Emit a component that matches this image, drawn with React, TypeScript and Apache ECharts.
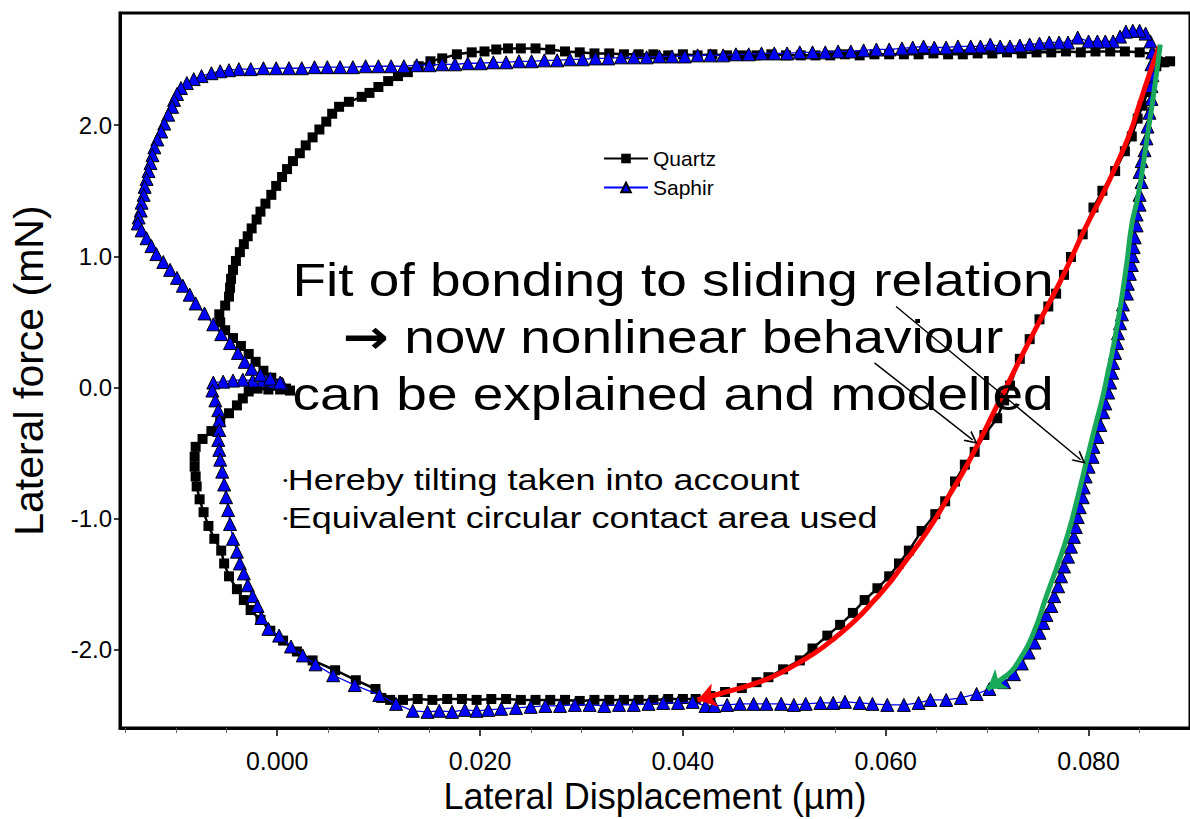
import React, { useEffect, useRef } from "react";
import * as echarts from "echarts";

// ---------- axes ----------
const xMin = -0.0155;
const xMax = 0.09;
const yMin = -2.596;
const yMax = 2.855;
const xTicks = [0, 0.02, 0.04, 0.06, 0.08];
const xMinorTicks = [-0.015, -0.01, -0.005, 0.005, 0.01, 0.015, 0.025, 0.03, 0.035, 0.045, 0.05, 0.055, 0.065, 0.07, 0.075, 0.085];
const yTicks = [-2, -1, 0, 1, 2];

// ---------- Quartz (black squares) ----------
const quartzDisp = [
  0.00126, 0.00029, -0.00087, -0.00194, -0.00281, -0.00339, -0.00397, -0.00475, -0.00562, -0.00649,
  -0.00736, -0.00804, -0.00814, -0.00814, -0.00804, -0.00794, -0.00765, -0.00726, -0.00678, -0.0062,
  -0.00552, -0.00523, -0.00475, -0.00397, -0.00329, -0.00262, -0.00165, -0.00068, 0.00058, 0.00194,
  0.00349, 0.00571, 0.00775, 0.00969, 0.01027, 0.01114, 0.0124, 0.01385, 0.0153, 0.01676,
  0.01821, 0.01966, 0.02111, 0.02257, 0.02402, 0.02547, 0.02692, 0.02838, 0.02983, 0.03128,
  0.03274, 0.03419, 0.03564, 0.03709, 0.03855, 0.04, 0.04126, 0.04271, 0.04416, 0.04581,
  0.04726, 0.04843, 0.04988, 0.05153, 0.05278, 0.05424, 0.0555, 0.05676, 0.05792, 0.05918,
  0.06034, 0.06131, 0.06228, 0.06354, 0.06489, 0.06586, 0.06683, 0.0678, 0.06877, 0.06973,
  0.07099, 0.07167, 0.07225, 0.07322, 0.07419, 0.07516, 0.07603, 0.0768, 0.07758, 0.07826,
  0.07942, 0.08048, 0.08136, 0.08262, 0.08358, 0.08426, 0.08484, 0.08533, 0.08581, 0.0863,
  0.08668, 0.08746, 0.08804, 0.08649, 0.08504, 0.08358, 0.08213, 0.08068, 0.07923, 0.07777,
  0.07632, 0.07487, 0.07341, 0.07196, 0.07051, 0.06906, 0.0676, 0.06615, 0.0647, 0.06324,
  0.06179, 0.06034, 0.05889, 0.05743, 0.05598, 0.05453, 0.05307, 0.05162, 0.05017, 0.04872,
  0.04726, 0.04581, 0.04436, 0.04291, 0.04145, 0.04, 0.03855, 0.03709, 0.03564, 0.03419,
  0.03274, 0.03128, 0.02983, 0.02838, 0.02692, 0.02547, 0.02402, 0.02276, 0.0216, 0.02044,
  0.01918, 0.01772, 0.01627, 0.01511, 0.01395, 0.01288, 0.01191, 0.01094, 0.00998, 0.0091,
  0.00833, 0.00707, 0.0061, 0.00542, 0.00484, 0.00416, 0.00349, 0.00281, 0.00223, 0.00155,
  0.00097, 0.00048, -0.0001, -0.00058, -0.00116, -0.00165, -0.00203, -0.00252, -0.00291, -0.00329,
  -0.00368, -0.00407, -0.00436, -0.00455, -0.00465, -0.00475, -0.00513, -0.00571, -0.00562, -0.00513,
  -0.00436, -0.00358, -0.00281, -0.00213, -0.00136, -0.00058, 0.00019, 0.00087,
];
const quartzForce = [
  -0.023, -0.015, -0.015, -0.008, -0.03, -0.083, -0.136, -0.196, -0.264, -0.332,
  -0.392, -0.452, -0.528, -0.603, -0.678, -0.754, -0.852, -0.95, -1.055, -1.153,
  -1.243, -1.341, -1.439, -1.537, -1.62, -1.696, -1.771, -1.854, -1.929, -2.012,
  -2.08, -2.155, -2.231, -2.298, -2.366, -2.381, -2.381, -2.374, -2.381, -2.374,
  -2.374, -2.381, -2.374, -2.374, -2.381, -2.381, -2.381, -2.381, -2.389, -2.381,
  -2.381, -2.381, -2.381, -2.381, -2.374, -2.374, -2.374, -2.351, -2.321, -2.291,
  -2.246, -2.208, -2.148, -2.08, -1.989, -1.891, -1.809, -1.718, -1.62, -1.53,
  -1.439, -1.341, -1.243, -1.093, -0.965, -0.867, -0.716, -0.588, -0.49, -0.362,
  -0.234, -0.098, 0.015, 0.219, 0.369, 0.52, 0.618, 0.716, 0.859, 0.995,
  1.168, 1.372, 1.5, 1.65, 1.801, 1.914, 2.05, 2.148, 2.253, 2.366,
  2.449, 2.479, 2.487, 2.54, 2.555, 2.562, 2.562, 2.562, 2.555, 2.562,
  2.555, 2.555, 2.547, 2.555, 2.547, 2.547, 2.54, 2.54, 2.547, 2.54,
  2.54, 2.54, 2.54, 2.532, 2.54, 2.532, 2.532, 2.532, 2.532, 2.54,
  2.532, 2.532, 2.532, 2.54, 2.532, 2.54, 2.532, 2.54, 2.54, 2.54,
  2.547, 2.547, 2.555, 2.562, 2.577, 2.585, 2.585, 2.585, 2.577, 2.562,
  2.555, 2.54, 2.509, 2.487, 2.449, 2.404, 2.374, 2.336, 2.291, 2.246,
  2.216, 2.178, 2.14, 2.087, 2.027, 1.967, 1.907, 1.846, 1.786, 1.726,
  1.665, 1.605, 1.537, 1.469, 1.402, 1.341, 1.281, 1.213, 1.153, 1.093,
  1.032, 0.965, 0.897, 0.829, 0.761, 0.693, 0.625, 0.558, 0.497, 0.437,
  0.377, 0.317, 0.256, 0.196, 0.128, 0.075, 0.03, -0.008,
];

// ---------- Saphir (blue triangles) ----------
const saphirDisp = [
  0.00048, -0.00048, -0.00145, -0.00242, -0.00339, -0.00436, -0.00533, -0.0063, -0.00639, -0.0061,
  -0.00581, -0.00571, -0.00571, -0.00581, -0.00571, -0.00562, -0.00542, -0.00523, -0.00504, -0.00484,
  -0.00465, -0.00436, -0.00397, -0.00368, -0.00329, -0.0029, -0.00242, -0.00194, -0.00155, -0.00087,
  0.00019, 0.00136, 0.00252, 0.00378, 0.00552, 0.00765, 0.01007, 0.01172, 0.01337, 0.01482,
  0.01598, 0.01724, 0.0185, 0.01966, 0.02082, 0.02208, 0.02354, 0.02499, 0.02644, 0.02789,
  0.02935, 0.0308, 0.03225, 0.0337, 0.03516, 0.03661, 0.03806, 0.03952, 0.04097, 0.04223,
  0.0431, 0.04436, 0.04562, 0.04697, 0.04823, 0.04969, 0.05094, 0.05211, 0.05356, 0.05482,
  0.05598, 0.05743, 0.05869, 0.06015, 0.06179, 0.06324, 0.06441, 0.06596, 0.06741, 0.06896,
  0.07022, 0.07167, 0.07264, 0.07341, 0.07409, 0.07467, 0.07516, 0.07554, 0.07584, 0.07632,
  0.07661, 0.077, 0.07729, 0.07758, 0.07797, 0.07826, 0.07855, 0.07874, 0.07893, 0.07913,
  0.07942, 0.07952, 0.07971, 0.08, 0.08039, 0.08048, 0.08087, 0.08116, 0.08145, 0.08165,
  0.08194, 0.08213, 0.08232, 0.08242, 0.08261, 0.08281, 0.0829, 0.0831, 0.08329, 0.08339,
  0.08378, 0.08387, 0.08407, 0.08426, 0.08436, 0.08445, 0.08455, 0.08474, 0.08474, 0.08503,
  0.08503, 0.08523, 0.08503, 0.08523, 0.08552, 0.08571, 0.08581, 0.086, 0.0862, 0.0862,
  0.08629, 0.0862, 0.08629, 0.0861, 0.08562, 0.08503, 0.08436, 0.08368, 0.0831, 0.08242,
  0.08165, 0.08087, 0.08, 0.07893, 0.07797, 0.07709, 0.07612, 0.07516, 0.07419, 0.07322,
  0.07225, 0.07128, 0.07031, 0.06934, 0.06838, 0.06712, 0.06595, 0.06479, 0.06373, 0.06266,
  0.0616, 0.06034, 0.05908, 0.05782, 0.05656, 0.0553, 0.05404, 0.05278, 0.05152, 0.05027,
  0.04901, 0.04775, 0.04649, 0.04523, 0.04397, 0.04271, 0.04145, 0.04019, 0.03893, 0.03768,
  0.03642, 0.03516, 0.0339, 0.03264, 0.03138, 0.03012, 0.02886, 0.0276, 0.02634, 0.02508,
  0.02383, 0.02257, 0.02131, 0.02005, 0.01879, 0.01753, 0.01627, 0.01501, 0.01375, 0.01249,
  0.01123, 0.00998, 0.00872, 0.00746, 0.0062, 0.00494, 0.00368, 0.00242, 0.00116, -0.0001,
  -0.00136, -0.00261, -0.00378, -0.00475, -0.00562, -0.00649, -0.00746, -0.00823, -0.00891, -0.00949,
  -0.00988, -0.01017, -0.01036, -0.01075, -0.01114, -0.01143, -0.01182, -0.01211, -0.0123, -0.01249,
  -0.01269, -0.01288, -0.01307, -0.01317, -0.01337, -0.01346, -0.01366, -0.01375, -0.01337, -0.01288,
  -0.0124, -0.01191, -0.01123, -0.01056, -0.00988, -0.0093, -0.00862, -0.00804, -0.00717, -0.0063,
  -0.00552, -0.00465, -0.00387, -0.0032, -0.00252, -0.00165, -0.00068, 0.00029,
];
const saphirForce = [
  0.03, 0.045, 0.053, 0.053, 0.06, 0.053, 0.045, 0.038, -0.023, -0.098,
  -0.173, -0.249, -0.324, -0.399, -0.475, -0.55, -0.641, -0.739, -0.836, -0.934,
  -1.04, -1.153, -1.251, -1.341, -1.417, -1.507, -1.59, -1.665, -1.756, -1.839,
  -1.891, -1.974, -2.042, -2.11, -2.193, -2.268, -2.344, -2.411, -2.464, -2.472,
  -2.464, -2.472, -2.457, -2.464, -2.457, -2.449, -2.442, -2.434, -2.427, -2.427,
  -2.419, -2.419, -2.427, -2.419, -2.419, -2.411, -2.404, -2.404, -2.396, -2.427,
  -2.427, -2.419, -2.411, -2.411, -2.411, -2.411, -2.419, -2.411, -2.404, -2.404,
  -2.396, -2.404, -2.411, -2.419, -2.419, -2.404, -2.381, -2.381, -2.366, -2.336,
  -2.298, -2.246, -2.185, -2.103, -2.02, -1.944, -1.869, -1.794, -1.733, -1.665,
  -1.59, -1.515, -1.439, -1.364, -1.289, -1.213, -1.138, -1.063, -0.987, -0.912,
  -0.836, -0.761, -0.678, -0.603, -0.528, -0.452, -0.377, -0.286, -0.188, -0.121,
  -0.038, 0.038, 0.113, 0.188, 0.264, 0.339, 0.414, 0.49, 0.558, 0.633,
  0.716, 0.791, 0.867, 0.934, 1.002, 1.07, 1.145, 1.236, 1.319, 1.394,
  1.469, 1.567, 1.643, 1.726, 1.809, 1.899, 1.989, 2.095, 2.2, 2.298,
  2.381, 2.464, 2.555, 2.638, 2.698, 2.72, 2.72, 2.713, 2.675, 2.638,
  2.638, 2.638, 2.638, 2.668, 2.63, 2.63, 2.63, 2.622, 2.615, 2.607,
  2.6, 2.6, 2.615, 2.6, 2.6, 2.6, 2.592, 2.592, 2.6, 2.592,
  2.585, 2.577, 2.577, 2.57, 2.562, 2.562, 2.555, 2.555, 2.555, 2.547,
  2.547, 2.547, 2.54, 2.54, 2.532, 2.532, 2.532, 2.524, 2.524, 2.524,
  2.517, 2.517, 2.517, 2.509, 2.509, 2.502, 2.502, 2.494, 2.494, 2.487,
  2.487, 2.479, 2.479, 2.472, 2.472, 2.464, 2.464, 2.457, 2.457, 2.449,
  2.449, 2.449, 2.449, 2.442, 2.442, 2.442, 2.442, 2.434, 2.434, 2.434,
  2.434, 2.427, 2.427, 2.419, 2.411, 2.396, 2.374, 2.351, 2.321, 2.283,
  2.238, 2.193, 2.14, 2.08, 2.012, 1.952, 1.891, 1.831, 1.771, 1.711,
  1.65, 1.59, 1.53, 1.469, 1.409, 1.349, 1.296, 1.251, 1.198, 1.138,
  1.078, 1.017, 0.957, 0.897, 0.836, 0.776, 0.708, 0.641, 0.565, 0.482,
  0.407, 0.339, 0.264, 0.196, 0.143, 0.098, 0.068, 0.038,
];

// ---------- fitted curves (arrow at last point) ----------
const redFitDisp = [
  0.08697, 0.086, 0.08503, 0.08407, 0.08261, 0.08136, 0.07971, 0.07826, 0.0768, 0.07516,
  0.07341, 0.07196, 0.07051, 0.06905, 0.0676, 0.06615, 0.0647, 0.06324, 0.06179, 0.06034,
  0.05889, 0.05695, 0.05501, 0.05307, 0.05114, 0.04872, 0.0463, 0.04387, 0.04145,
];
const redFitForce = [
  2.6, 2.389, 2.163, 1.937, 1.673, 1.469, 1.221, 0.98, 0.746, 0.505,
  0.241, 0.015, -0.211, -0.437, -0.648, -0.836, -1.025, -1.191, -1.341, -1.492,
  -1.62, -1.778, -1.907, -2.02, -2.11, -2.208, -2.276, -2.329, -2.381,
];
const greenFitDisp = [
  0.08707, 0.08649, 0.08591, 0.08533, 0.08484, 0.08426, 0.08378, 0.08329, 0.08281, 0.08232,
  0.08184, 0.08136, 0.08068, 0.08019, 0.07971, 0.07893, 0.07797, 0.077, 0.07584, 0.07458,
  0.07322, 0.07196, 0.07002,
];
const greenFitForce = [
  2.615, 2.276, 1.974, 1.673, 1.447, 1.243, 0.957, 0.693, 0.467, 0.264,
  0.09, -0.083, -0.286, -0.437, -0.588, -0.836, -1.115, -1.341, -1.59, -1.869,
  -2.072, -2.193, -2.298,
];

// ---------- annotation pointers ----------
const pointerFrom = [[0.05889, 0.188], [0.06102, 0.618]];
const pointerTo = [[0.06857, -0.399], [0.07922, -0.55]];

// ---------- texts ----------
const seriesNames = ["Quartz", "Saphir"];
const xTitle = "Lateral Displacement (\u00b5m)";
const yTitle = "Lateral force (mN)";
const headline = ["Fit of bonding to sliding relation", "{a|\u2192} now nonlinear behaviour", "can be explained and modelled"];
const bullets = ["Hereby tilting taken into account", "Equivalent circular contact area used"];

const zip = (xs: number[], ys: number[]) => xs.map((x, i) => [x, ys[i]]);

export default function App() {
  const ref = useRef<HTMLDivElement>(null);
  useEffect(() => {
    document.body.style.margin = "0";
    const chart = echarts.init(ref.current!, undefined, { renderer: "svg" });
    const font = "'Liberation Sans', Arial, Helvetica, sans-serif";
    const red = zip(redFitDisp, redFitForce);
    const green = zip(greenFitDisp, greenFitForce);
    const chevron = "path://M0,10 L5,0 L10,10 L8.6,10 L5,2.8 L1.4,10 Z";

    chart.setOption({
      animation: false,
      textStyle: { fontFamily: font },
      grid: {
        left: 117, top: 13, right: -16, bottom: 82,
        show: true, borderColor: "#000", borderWidth: 3, backgroundColor: "transparent",
      },
      legend: {
        data: seriesNames,
        orient: "vertical",
        left: 598, top: 143,
        itemWidth: 44, itemHeight: 12, itemGap: 8,
        textStyle: { fontSize: 21, color: "#000", fontFamily: font },
      },
      xAxis: [
        {
          type: "value", min: xMin, max: xMax, position: "bottom",
          name: xTitle, nameLocation: "middle", nameGap: 44,
          nameTextStyle: { fontSize: 36, color: "#000", fontFamily: font },
          axisLine: { show: true, onZero: false, lineStyle: { color: "#000", width: 3 } },
          axisTick: { show: true, customValues: xTicks, length: 8, lineStyle: { color: "#000", width: 1.5 } },
          axisLabel: {
            show: true, customValues: xTicks, margin: 20, fontSize: 25, color: "#000", fontFamily: font,
            formatter: (v: number) => v.toFixed(3),
          },
          splitLine: { show: false },
        },
        {
          type: "value", min: xMin, max: xMax, position: "bottom",
          axisLine: { show: false, onZero: false },
          axisTick: { show: true, customValues: xMinorTicks, length: 5, lineStyle: { color: "#666", width: 1 } },
          axisLabel: { show: false },
          splitLine: { show: false },
        },
      ],
      yAxis: {
        type: "value", min: yMin, max: yMax,
        name: yTitle, nameLocation: "middle", nameGap: 71, nameRotate: 90,
        nameTextStyle: { fontSize: 41, color: "#000", fontFamily: font },
        axisLine: { show: true, onZero: false, lineStyle: { color: "#000", width: 3 } },
        axisTick: { show: true, customValues: yTicks, length: 6, lineStyle: { color: "#000", width: 1.5 } },
        axisLabel: {
          show: true, customValues: yTicks, margin: 8, fontSize: 24, color: "#000", fontFamily: font,
          formatter: (v: number) => v.toFixed(1),
        },
        splitLine: { show: false },
      },
      series: [
        {
          name: seriesNames[0], type: "line", data: zip(quartzDisp, quartzForce),
          symbol: "rect", symbolSize: 10, showAllSymbol: true,
          lineStyle: { color: "#000", width: 2.5 },
          itemStyle: { color: "#000" }, z: 2,
        },
        {
          name: seriesNames[1], type: "line", data: zip(saphirDisp, saphirForce),
          symbol: "triangle", symbolSize: 13, showAllSymbol: true,
          lineStyle: { color: "#0000ff", width: 1.3 },
          itemStyle: { color: "#0000ff", borderColor: "#000", borderWidth: 1 }, z: 3,
        },
        {
          name: "fitRed", type: "line", data: red, smooth: true, symbol: "none",
          lineStyle: { color: "#ff0000", width: 5 }, z: 4,
        },
        {
          name: "fitGreen", type: "line", data: green, smooth: true, symbol: "none",
          lineStyle: { color: "#1aa85a", width: 5 }, z: 4,
        },
        {
          type: "lines", coordinateSystem: "cartesian2d", z: 5,
          symbol: ["none", "arrow"], symbolSize: 18,
          lineStyle: { opacity: 1, width: 5 },
          data: [
            { coords: [red[red.length - 2], red[red.length - 1]], lineStyle: { color: "#ff0000", width: 5, opacity: 1 }, itemStyle: { color: "#ff0000" } },
            { coords: [green[green.length - 2], green[green.length - 1]], lineStyle: { color: "#1aa85a", width: 5, opacity: 1 }, itemStyle: { color: "#1aa85a" } },
          ],
        },
        {
          type: "lines", coordinateSystem: "cartesian2d", z: 6,
          symbol: ["none", chevron], symbolSize: [13, 13],
          lineStyle: { color: "#000", width: 1.4, opacity: 1 },
          itemStyle: { color: "#000" },
          data: pointerFrom.map((p, i) => ({ coords: [p, pointerTo[i]] })),
        },
      ],
      graphic: [
        ...headline.map((t, i) => ({
          type: "text", x: 673, y: 280 + i * 57, scaleX: 1.17, z: 10,
          style: {
            text: t, fontSize: 47, fontFamily: font, fill: "#000", align: "center", verticalAlign: "middle",
            rich: { a: { fontSize: 47, fontWeight: "bold", fontFamily: "'DejaVu Sans', sans-serif", fill: "#000" } },
          },
        })),
        ...bullets.map((t, i) => ({
          type: "text", x: 283, y: 480 + i * 38, scaleX: 1.22, z: 10,
          style: {
            text: "{b|\u2022}" + t, fontSize: 29.5, fontFamily: font, fill: "#000",
            align: "left", verticalAlign: "middle",
            rich: { b: { fontSize: 11, fill: "#000", fontFamily: font } },
          },
        })),
      ],
    });
    return () => chart.dispose();
  }, []);
  return <div ref={ref} style={{ width: 1190, height: 819 }} />;
}
